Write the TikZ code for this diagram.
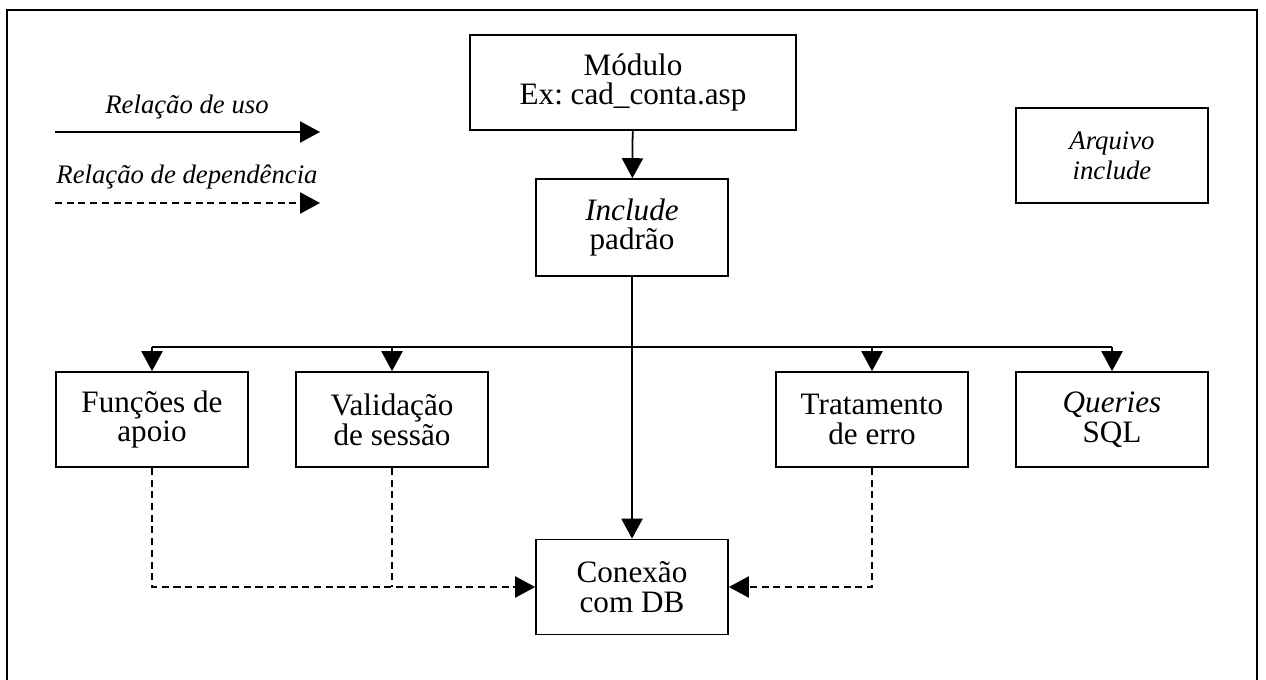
\documentclass[tikz,border=0pt]{standalone}
\usepackage{fontspec}
\setmainfont{Liberation Serif}
\usetikzlibrary{arrows.meta,positioning}
\frenchspacing

\begin{document}
\begin{tikzpicture}[x=0.03cm, y=-0.03cm, line width=1.5pt,
    box/.style={draw, rectangle, inner sep=0pt, minimum width=5.76cm, minimum height=2.85cm,
                align=center, font=\fontsize{26.6}{25.4}\selectfont},
    legtxt/.style={inner sep=0pt, align=center, font=\fontsize{22.8}{25.6}\selectfont\itshape},
    uso/.style={-{Triangle[length=17pt,width=18pt]}},
    dep/.style={uso, dash pattern=on 6pt off 4pt}]
   \useasboundingbox (0,0) rectangle (1266,680);
   % moldura
   \draw (7,680) -- (7,10) -- (1257,10) -- (1257,680);

   % legenda
   \node[legtxt, anchor=base] (usotxt) at (187,114) {Relação de uso};
   \coordinate (usoa) at (55,132);
   \coordinate (usob) at (320,132);
   \node[legtxt, anchor=base] (deptxt) at (187,184) {Relação de dependência};
   \coordinate (depa) at (55,203);
   \coordinate (depb) at (320,203);
   \node[box, legtxt, draw] (arquivo) at (1112,155.5) {Arquivo\\include};

   % modulos
   \node[box, minimum width=9.78cm] (modulo) at (633,82.5) {Módulo\\Ex: cad\_conta.asp};
   \node[box, minimum height=2.91cm] (padrao) at (632,227.5) {\textit{Include}\\padrão};
   \node[box] (funcoes) at (152,419.5) {Funções de\\apoio};
   \node[box] (sessao) at (392,419.5) {Validação\\de sessão};
   \node[box] (erro) at (872,419.5) {Tratamento\\de erro};
   \node[box] (queries) at (1112,419.5) {\textit{Queries}\\SQL};
   \node[box] (conexao) at (632,587) {Conexão\\com DB};
   \coordinate (ramo) at (632,347);

  \draw[uso] (usoa) -- (usob);
  \draw[dep] (depa) -- (depb);

  \path[uso]
    (modulo) edge (padrao)
    (padrao) edge (conexao)
    (funcoes.north |- ramo) edge (funcoes)
    (sessao.north |- ramo) edge (sessao)
    (erro.north |- ramo) edge (erro)
    (queries.north |- ramo) edge (queries);
  \draw (funcoes.north |- ramo) -- (queries.north |- ramo);

  \draw[dep] (funcoes.south) |- (conexao.west);
  \draw[dash pattern=on 6pt off 4pt] (sessao.south) -- (sessao.south |- conexao.west);
  \draw[dep] (erro.south) |- (conexao.east);
\end{tikzpicture}
\end{document}
